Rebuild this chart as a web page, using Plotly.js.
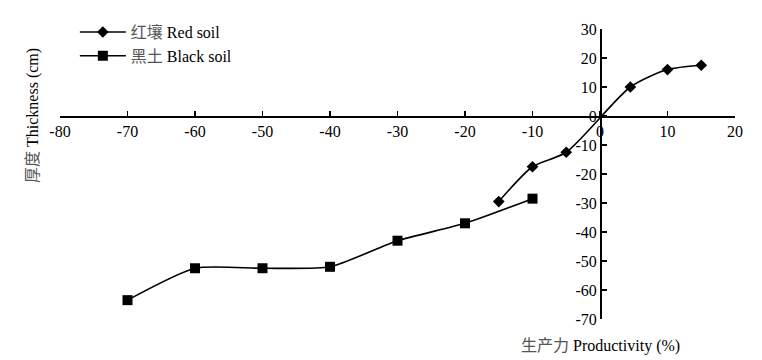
<!DOCTYPE html>
<html><head><meta charset="utf-8">
<script src="https://cdn.plot.ly/plotly-3.0.1.min.js"></script>
<style>html,body{margin:0;padding:0;background:#fff}#chart{width:762px;height:360px}</style>
</head><body><div id="chart"></div>
<script>
const redX = [-15, -10, -5, 4.5, 10, 15];
const redY = [-29.5, -17.5, -12.5, 10, 16, 17.5];
const blackX = [-70, -60, -50, -40, -30, -20, -10];
const blackY = [-63.5, -52.5, -52.5, -52, -43, -37, -28.5];
const xTicks = [-80, -70, -60, -50, -40, -30, -20, -10, 0, 10, 20];
const yTicks = [30, 20, 10, 0, -10, -20, -30, -40, -50, -60, -70];
const redName = '<span style="color:#555">红壤</span> Red soil';
const blackName = '<span style="color:#555">黑土</span> Black soil';
const xTitle = '<span style="color:#555">生产力</span> Productivity (%)';
const yTitle = '<span style="color:#555">厚度</span> Thickness (cm)';

const FONT = '"Liberation Serif", "Noto Sans CJK SC", serif';
const xRange = [-80, 20], yRange = [-70, 30];

const traces = [
  {x: redX, y: redY, name: redName, type: 'scatter', mode: 'lines+markers',
   line: {color: '#000', width: 1.6, shape: 'spline', smoothing: 0.7},
   marker: {symbol: 'diamond', size: 9, color: '#000'}},
  {x: blackX, y: blackY, name: blackName, type: 'scatter', mode: 'lines+markers',
   line: {color: '#000', width: 1.6, shape: 'spline', smoothing: 0.6},
   marker: {symbol: 'square', size: 10, color: '#000'}}
];

const layout = {
  width: 762, height: 360,
  margin: {l: 60, r: 27, t: 29, b: 41},
  paper_bgcolor: '#fff', plot_bgcolor: '#fff',
  font: {family: FONT, size: 16, color: '#000'},
  showlegend: true,
  legend: {x: 0.022, y: 1.048, xanchor: 'left', yanchor: 'top', bgcolor: 'rgba(0,0,0,0)',
           font: {family: FONT, size: 16, color: '#000'}, tracegroupgap: 0, itemwidth: 46},
  xaxis: {range: xRange, anchor: 'free', position: (0 - yRange[0]) / (yRange[1] - yRange[0]),
          tickmode: 'array', tickvals: xTicks, ticktext: xTicks.map(String),
          ticks: 'inside', ticklen: 5, tickwidth: 1.5, tickcolor: '#000',
          showline: true, linecolor: '#000', linewidth: 1.8, showgrid: false, zeroline: false,
          tickfont: {family: FONT, size: 16, color: '#000'}},
  yaxis: {range: yRange, anchor: 'free', position: (0 - xRange[0]) / (xRange[1] - xRange[0]),
          tickmode: 'array', tickvals: yTicks, ticktext: yTicks.map(String),
          ticks: 'inside', ticklen: 5, tickwidth: 1.5, tickcolor: '#000',
          showline: true, linecolor: '#000', linewidth: 1.8, showgrid: false, zeroline: false,
          tickfont: {family: FONT, size: 16, color: '#000'}},
  annotations: [
    {text: yTitle, xref: 'paper', yref: 'y', x: -0.04, y: 0, xanchor: 'center', yanchor: 'middle',
     textangle: -90, showarrow: false, font: {family: FONT, size: 16, color: '#000'}},
    {text: xTitle, xref: 'x', yref: 'paper', x: 0, y: -0.056, xanchor: 'center', yanchor: 'top',
     showarrow: false, font: {family: FONT, size: 16, color: '#000'}}
  ]
};

Plotly.newPlot('chart', traces, layout, {displayModeBar: false, staticPlot: true});
</script></body></html>
